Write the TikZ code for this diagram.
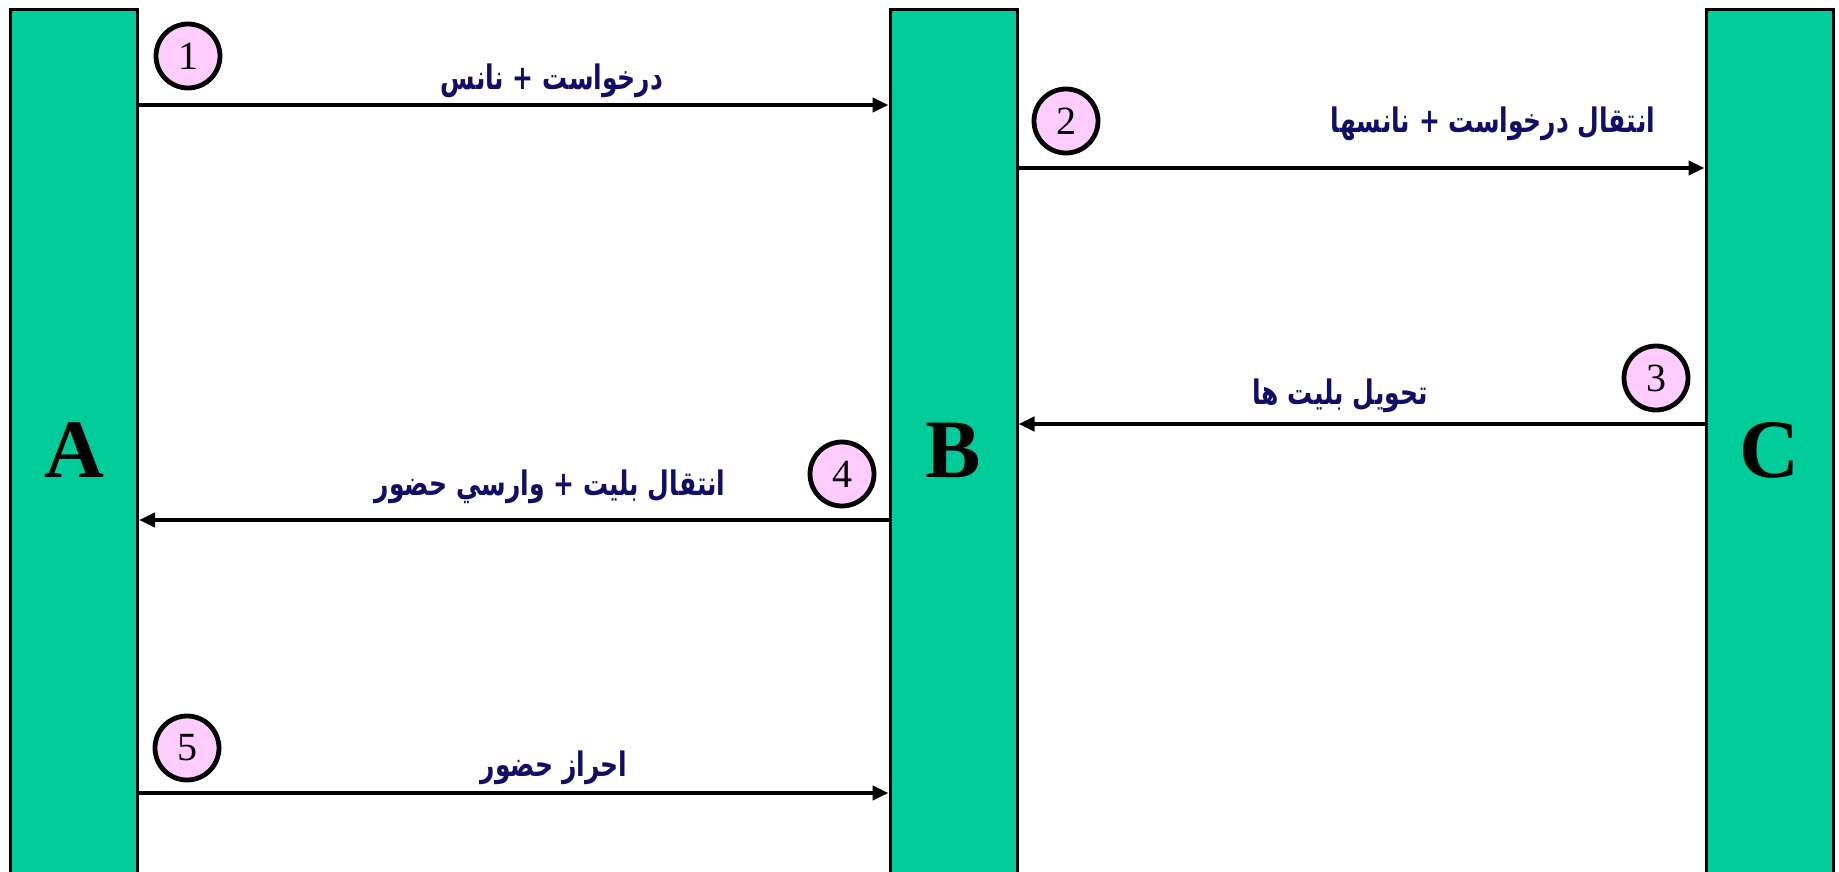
\documentclass[tikz,border=0pt]{standalone}
\usepackage{fontspec}
\setmainfont{Liberation Serif}
\newfontfamily\arabicfont[Script=Arabic]{DejaVu Sans}
\TeXXeTstate=1
\usetikzlibrary{arrows.meta}
\definecolor{bargreen}{RGB}{0,204,153}
\definecolor{circpink}{RGB}{255,204,255}
\definecolor{navytext}{RGB}{18,14,104}
\newcommand{\rtltext}[1]{\scalebox{1}[1.35]{\beginR #1\endR}}
\tikzset{
  bar/.style={draw=black, line width=3pt, fill=bargreen, minimum width=127pt, minimum height=880pt, inner sep=0pt, font=\fontsize{83}{83}\selectfont\bfseries},
  stepnum/.style={circle, draw=black, line width=4.8pt, fill=circpink, minimum size=64pt, inner sep=0pt, font=\fontsize{40}{40}\selectfont},
  msg/.style={line width=4pt, -{Triangle[length=16pt,width=14pt]}},
  lbl/.style={text=navytext, font=\fontsize{25}{25}\selectfont\arabicfont\bfseries, inner sep=0pt}
}
\begin{document}
\begin{tikzpicture}[x=1pt,y=-1pt]
\useasboundingbox (0,0) rectangle (1839,872);
\fill[white] (0,0) rectangle (1839,872);
\node[bar] (A) at (74,450) {A};
\node[bar] (B) at (953.5,450) {B};
\node[bar] (C) at (1769.5,450) {C};
\coordinate (y1) at (0,105);
\coordinate (y2) at (0,168);
\coordinate (y3) at (0,424);
\coordinate (y4) at (0,520);
\coordinate (y5) at (0,793);
\draw[msg] (A.east |- y1) -- (B.west |- y1);
\draw[msg] (B.east |- y2) -- (C.west |- y2);
\draw[msg] (C.west |- y3) -- (B.east |- y3);
\draw[msg] (B.west |- y4) -- (A.east |- y4);
\draw[msg] (A.east |- y5) -- (B.west |- y5);
\node[stepnum] (n1) at (188,56) {1};
\node[stepnum] (n2) at (1066,121) {2};
\node[stepnum] (n3) at (1656,378) {3};
\node[stepnum] (n4) at (842,474) {4};
\node[stepnum] (n5) at (187,748) {5};
\node[lbl] (t1) at (552,81) {\rtltext{درخواست + نانس}};
\node[lbl] (t2) at (1493,124) {\rtltext{انتقال درخواست + نانسها}};
\node[lbl] (t3) at (1340,396) {\rtltext{تحويل بليت ها}};
\node[lbl] (t4) at (550,487) {\rtltext{انتقال بليت + وارسي حضور}};
\node[lbl] (t5) at (554,768) {\rtltext{احراز حضور}};
\end{tikzpicture}
\end{document}
